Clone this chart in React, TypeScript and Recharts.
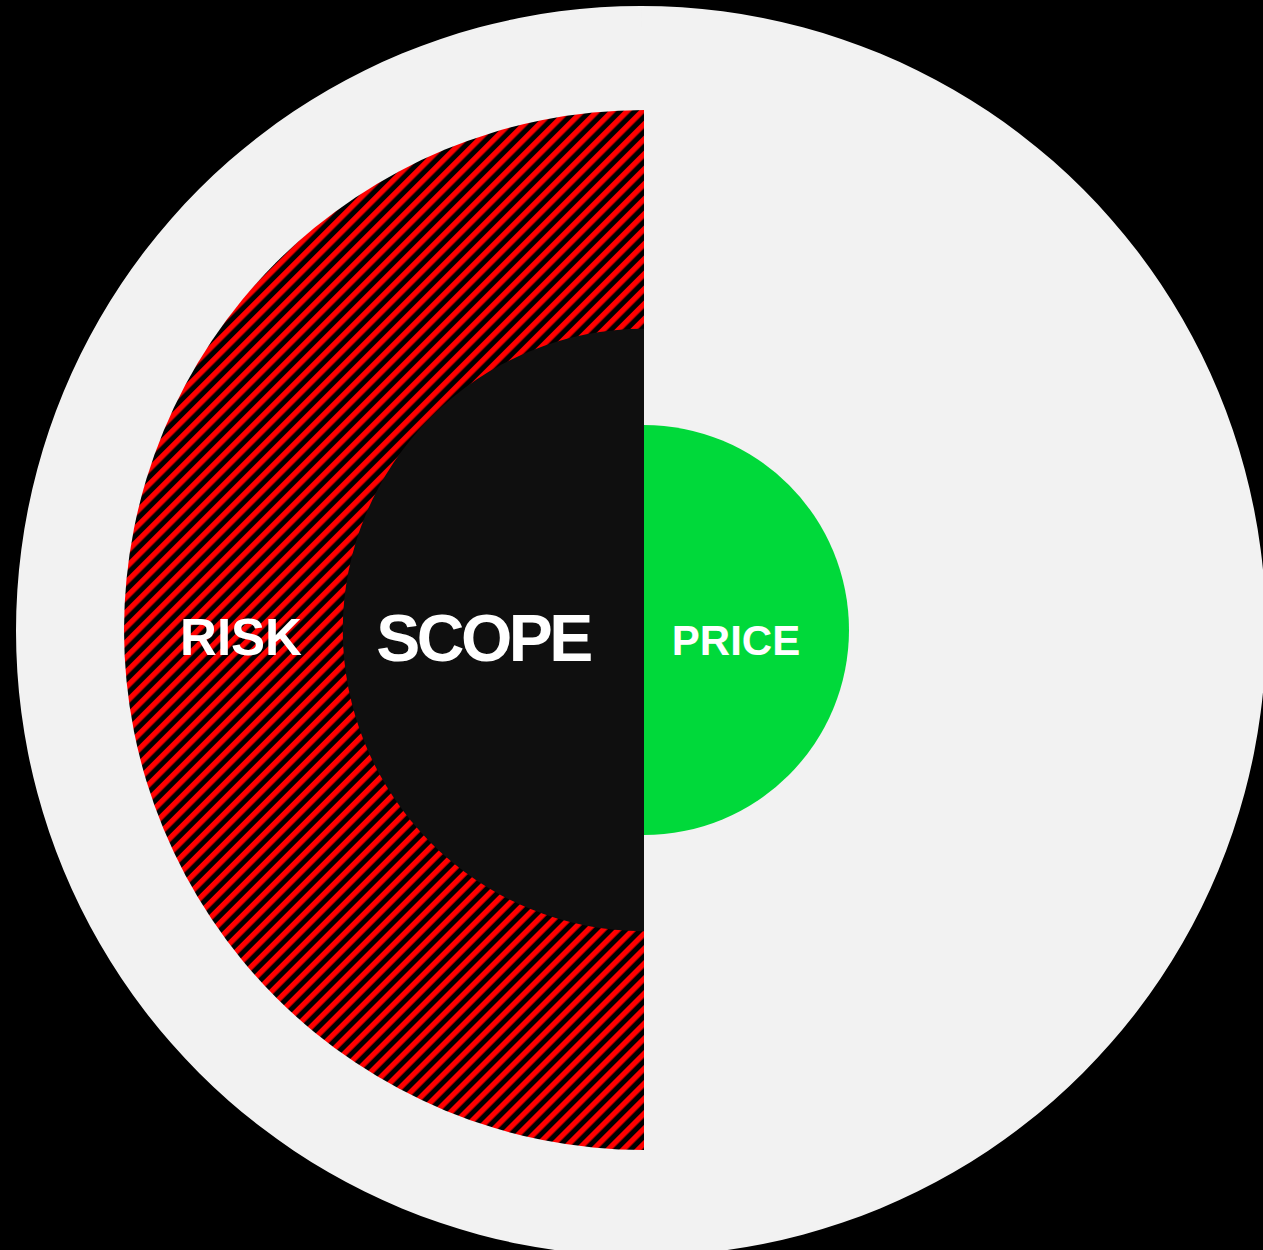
import React from 'react';
import { PieChart, Pie, Cell } from 'recharts';

// Categories and their relative sizes (share of the outer circle's radius, %)
const categories = ['RISK', 'SCOPE', 'PRICE'];
const sizeValues = [83.2, 48.2, 32.8];
const outerValue = 100;

const outerData = [{ name: 'Total', value: 1 }];
const riskData = [{ name: categories[0], value: 1 }];
const scopeData = [{ name: categories[1], value: 1 }];
const priceData = [{ name: categories[2], value: 1 }];

const W = 1263;
const H = 1250;
const CX = 644;
const CY = 630;
const R = 625;

const rad = (v: number) => (v / outerValue) * R;
const FONT = "'Liberation Sans', Arial, sans-serif";

export default function App() {
  return (
    <div style={{ position: 'absolute', left: 0, top: 0, width: W, height: H, background: '#000', overflow: 'hidden' }}>
      <svg width={0} height={0} style={{ position: 'absolute' }}>
        <defs>
          <pattern id="hatch" patternUnits="userSpaceOnUse" width={10.6} height={10.6} patternTransform="rotate(45)">
            <rect x={0} y={0} width={10.6} height={10.6} fill="#000" />
            <rect x={0} y={0} width={5.4} height={10.6} fill="#ff0000" />
          </pattern>
        </defs>
      </svg>
      <PieChart width={W} height={H} margin={{ top: 0, right: 0, bottom: 0, left: 0 }}>
        <Pie data={outerData} dataKey="value" cx={641} cy={631} outerRadius={R} innerRadius={0}
          startAngle={90} endAngle={450} stroke="none" isAnimationActive={false}>
          <Cell fill="#f2f2f2" />
        </Pie>
        <Pie data={riskData} dataKey="value" cx={CX} cy={CY} outerRadius={rad(sizeValues[0])} innerRadius={0}
          startAngle={90} endAngle={270} stroke="none" isAnimationActive={false}>
          <Cell fill="url(#hatch)" />
        </Pie>
        <Pie data={scopeData} dataKey="value" cx={CX} cy={CY} outerRadius={rad(sizeValues[1])} innerRadius={0}
          startAngle={90} endAngle={270} stroke="none" isAnimationActive={false}>
          <Cell fill="#0f0f0f" />
        </Pie>
        <Pie data={priceData} dataKey="value" cx={CX} cy={CY} outerRadius={rad(sizeValues[2])} innerRadius={0}
          startAngle={90} endAngle={-90} stroke="none" isAnimationActive={false}>
          <Cell fill="#00d93a" />
        </Pie>
      </PieChart>
      <svg width={W} height={H} style={{ position: 'absolute', left: 0, top: 0, pointerEvents: 'none' }}>
        <text x={241} y={655} textAnchor="middle" fill="#fff" fontFamily={FONT} fontWeight={700} fontSize={51}>{categories[0]}</text>
        <text x={483} y={661} textAnchor="middle" fill="#fff" fontFamily={FONT} fontWeight={700} fontSize={66} letterSpacing={-3.5}>{categories[1]}</text>
        <text x={736} y={655} textAnchor="middle" fill="#fff" fontFamily={FONT} fontWeight={700} fontSize={42}>{categories[2]}</text>
      </svg>
    </div>
  );
}
